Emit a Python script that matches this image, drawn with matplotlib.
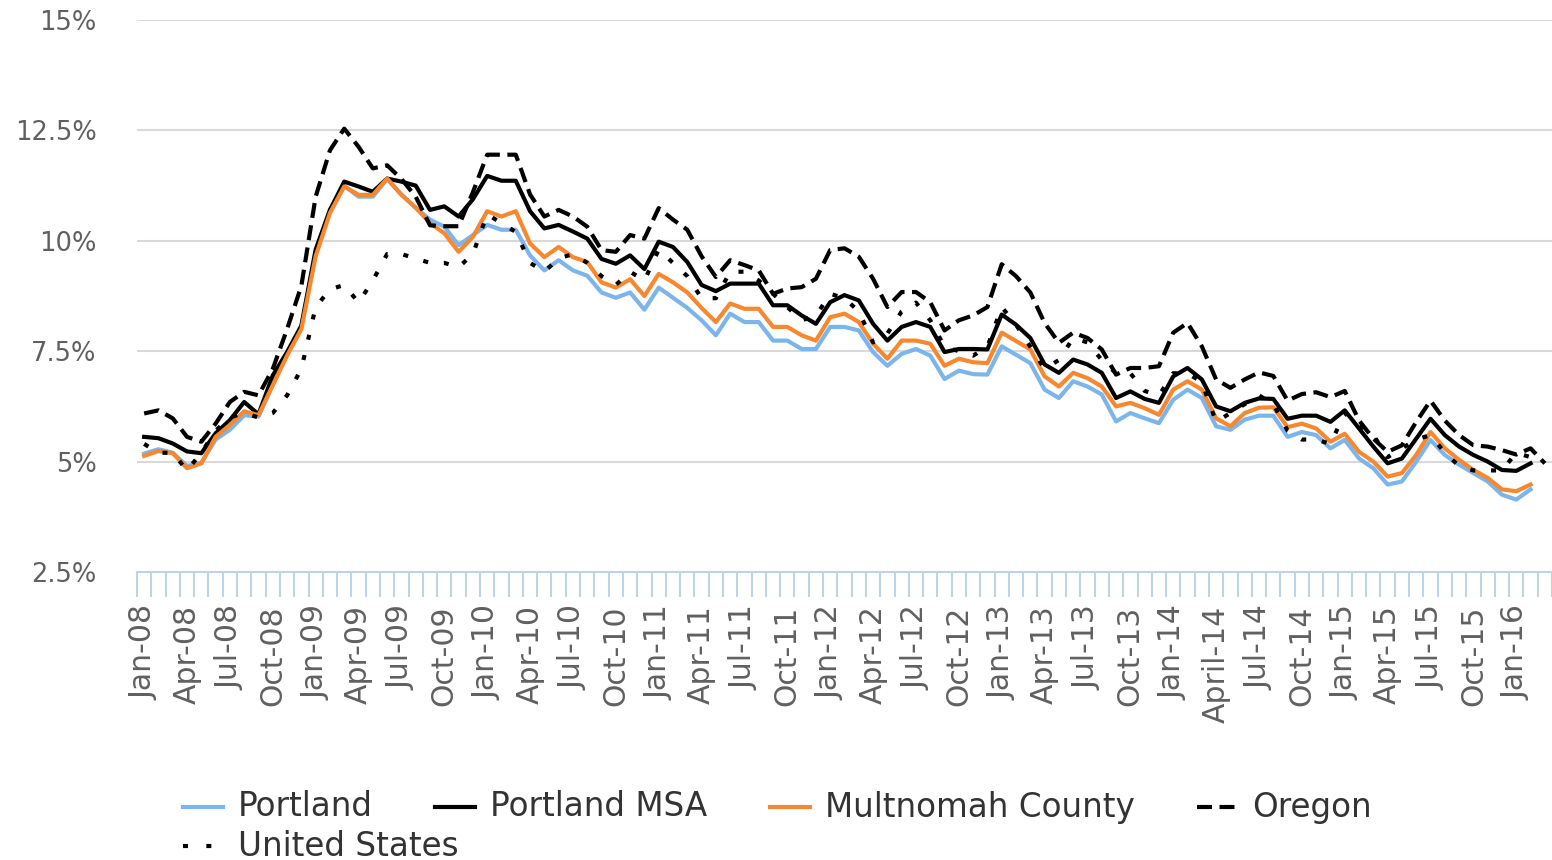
import numpy as np
import matplotlib
matplotlib.use("Agg")
import matplotlib.pyplot as plt
from matplotlib.lines import Line2D

# monthly categories Jan-08 .. Mar-16
months = list(range(99))
tick_labels = ['Jan-08', 'Apr-08', 'Jul-08', 'Oct-08', 'Jan-09', 'Apr-09', 'Jul-09', 'Oct-09',
               'Jan-10', 'Apr-10', 'Jul-10', 'Oct-10', 'Jan-11', 'Apr-11', 'Jul-11', 'Oct-11',
               'Jan-12', 'Apr-12', 'Jul-12', 'Oct-12', 'Jan-13', 'Apr-13', 'Jul-13', 'Oct-13',
               'Jan-14', 'April-14', 'Jul-14', 'Oct-14', 'Jan-15', 'Apr-15', 'Jul-15', 'Oct-15',
               'Jan-16']

portland = [5.18, 5.28, 5.2, 4.9, 4.97, 5.5, 5.72, 6.05, 6.02, 6.75, 7.45, 8.05,
            9.75, 10.7, 11.25, 11.0, 11.0, 11.4, 11.05, 10.75, 10.48, 10.32, 9.9, 10.13,
            10.36, 10.25, 10.25, 9.67, 9.33, 9.56, 9.33, 9.21, 8.83, 8.71, 8.83, 8.44,
            8.94, 8.71, 8.48, 8.2, 7.86, 8.35, 8.16, 8.16, 7.74, 7.74, 7.55, 7.55,
            8.05, 8.05, 7.97, 7.48, 7.17, 7.44, 7.55, 7.4, 6.87, 7.06, 6.98, 6.97,
            7.61, 7.42, 7.23, 6.63, 6.44, 6.82, 6.7, 6.52, 5.91, 6.1, 5.98, 5.87,
            6.4, 6.63, 6.44, 5.8, 5.72, 5.95, 6.04, 6.04, 5.56, 5.67, 5.6, 5.3,
            5.49, 5.07, 4.85, 4.48, 4.55, 5.0, 5.49, 5.15, 4.93, 4.74, 4.55, 4.25,
            4.14, 4.37]

portland_msa = [5.56, 5.53, 5.41, 5.23, 5.19, 5.64, 5.94, 6.35, 6.07, 6.95, 7.48, 8.08,
                9.8, 10.7, 11.34, 11.23, 11.11, 11.41, 11.34, 11.25, 10.7, 10.78, 10.55, 10.94,
                11.47, 11.36, 11.36, 10.67, 10.28, 10.36, 10.21, 10.05, 9.59, 9.48, 9.67, 9.36,
                9.98, 9.86, 9.52, 9.0, 8.86, 9.03, 9.03, 9.03, 8.54, 8.54, 8.31, 8.12,
                8.61, 8.77, 8.65, 8.12, 7.74, 8.05, 8.16, 8.05, 7.48, 7.55, 7.55, 7.54,
                8.33, 8.1, 7.8, 7.2, 7.01, 7.31, 7.2, 7.01, 6.44, 6.59, 6.42, 6.33,
                6.93, 7.12, 6.86, 6.25, 6.14, 6.33, 6.43, 6.42, 5.97, 6.04, 6.04, 5.9,
                6.16, 5.75, 5.34, 4.96, 5.07, 5.52, 5.97, 5.6, 5.34, 5.15, 5.0, 4.81,
                4.79, 4.96]

multnomah = [5.13, 5.24, 5.19, 4.85, 4.96, 5.56, 5.83, 6.14, 6.05, 6.73, 7.4, 8.0,
             9.65, 10.63, 11.23, 11.04, 11.04, 11.41, 11.04, 10.75, 10.4, 10.17, 9.75, 10.09,
             10.67, 10.55, 10.67, 9.94, 9.63, 9.86, 9.63, 9.52, 9.06, 8.94, 9.13, 8.75,
             9.25, 9.06, 8.83, 8.48, 8.16, 8.58, 8.46, 8.46, 8.05, 8.05, 7.86, 7.74,
             8.27, 8.35, 8.16, 7.67, 7.33, 7.74, 7.74, 7.67, 7.17, 7.33, 7.25, 7.23,
             7.92, 7.73, 7.54, 6.93, 6.7, 7.01, 6.89, 6.7, 6.25, 6.33, 6.21, 6.06,
             6.63, 6.82, 6.63, 5.98, 5.8, 6.1, 6.22, 6.23, 5.78, 5.86, 5.75, 5.45,
             5.63, 5.22, 5.0, 4.66, 4.74, 5.15, 5.67, 5.3, 5.04, 4.81, 4.63, 4.37,
             4.33, 4.48]

oregon = [6.09, 6.16, 5.98, 5.56, 5.45, 5.86, 6.35, 6.58, 6.5, 7.1, 8.0, 8.98,
          11.0, 12.05, 12.54, 12.13, 11.64, 11.71, 11.4, 11.0, 10.35, 10.33, 10.33, 11.1,
          11.95, 11.95, 11.95, 11.05, 10.55, 10.7, 10.55, 10.32, 9.79, 9.75, 10.13, 10.05,
          10.74, 10.48, 10.25, 9.65, 9.18, 9.56, 9.45, 9.33, 8.8, 8.92, 8.95, 9.14,
          9.79, 9.83, 9.64, 9.14, 8.5, 8.84, 8.84, 8.61, 7.97, 8.2, 8.31, 8.5,
          9.47, 9.2, 8.83, 8.14, 7.69, 7.92, 7.8, 7.54, 6.97, 7.12, 7.12, 7.16,
          7.92, 8.14, 7.61, 6.86, 6.67, 6.86, 7.02, 6.94, 6.38, 6.53, 6.57, 6.46,
          6.6, 5.93, 5.52, 5.22, 5.37, 5.9, 6.38, 5.93, 5.6, 5.37, 5.34, 5.26,
          5.16, 5.3, 4.96]

united_states = [5.4, 5.2, 5.2, 4.8, 5.2, 5.7, 6.0, 6.1, 6.0, 6.1, 6.5, 7.1,
                 8.5, 8.9, 9.0, 8.6, 9.1, 9.7, 9.7, 9.6, 9.5, 9.5, 9.4, 9.7,
                 10.6, 10.4, 10.2, 9.5, 9.3, 9.6, 9.7, 9.5, 9.2, 9.0, 9.3, 9.1,
                 9.8, 9.5, 9.2, 8.7, 8.7, 9.3, 9.3, 9.1, 8.8, 8.5, 8.2, 8.3,
                 8.8, 8.7, 8.4, 7.7, 7.9, 8.4, 8.6, 8.2, 7.6, 7.5, 7.4, 7.6,
                 8.5, 8.1, 7.6, 7.1, 7.3, 7.8, 7.7, 7.3, 7.0, 7.0, 6.6, 6.5,
                 7.0, 7.0, 6.8, 5.9, 6.1, 6.3, 6.5, 6.3, 5.7, 5.5, 5.5, 5.4,
                 6.1, 5.8, 5.6, 5.1, 5.3, 5.5, 5.6, 5.2, 4.9, 4.8, 4.8, 4.8,
                 5.2, 5.1]

y_ticks = [2.5, 5, 7.5, 10, 12.5, 15]
y_tick_labels = ['2.5%', '5%', '7.5%', '10%', '12.5%', '15%']

blue = '#7cb5ec'
orange = '#f7882f'
axis_blue = '#c0d2e6'
grid_grey = '#d9d9d9'
label_grey = '#606060'

W, H = 1552, 860
fig = plt.figure(figsize=(W / 100, H / 100), dpi=100)
ax = fig.add_axes([137 / W, 1 - 572 / H, (W - 137) / W, (572 - 20) / H])

lw = 3.0
ax.plot(range(len(portland)), portland, color=blue, lw=lw, zorder=3)
ax.plot(range(len(portland_msa)), portland_msa, color='black', lw=lw, zorder=4)
ax.plot(range(len(multnomah)), multnomah, color=orange, lw=lw, zorder=5)
ax.plot(range(len(oregon)), oregon, color='black', lw=lw, zorder=6,
        linestyle=(0, (3.6, 1.8)), dash_capstyle='butt')
ax.plot(range(len(united_states)), united_states, color='black', lw=lw, zorder=7,
        linestyle=(0, (1.2, 3.8)), dash_capstyle='butt')

ax.set_xlim(-0.5, len(months) - 0.5)
ax.set_ylim(2.5, 15)

ax.set_yticks(y_ticks)
ax.set_yticklabels(y_tick_labels)
ax.tick_params(axis='y', length=0, pad=29, labelsize=18.5, labelcolor=label_grey)

ax.set_xticks(np.arange(0, len(months), 3))
ax.set_xticklabels(tick_labels, rotation=90)
ax.set_xticks(np.arange(-0.5, len(months), 1), minor=True)
ax.tick_params(axis='x', which='major', length=0, pad=24, labelsize=21.5, labelcolor=label_grey)
ax.tick_params(axis='x', which='minor', length=18, width=1.5, color=axis_blue, direction='out')

for v in y_ticks[1:]:
    ax.axhline(v, color=grid_grey, lw=1.5, zorder=1)

for s in ['left', 'right', 'top']:
    ax.spines[s].set_visible(False)
ax.spines['bottom'].set_color(axis_blue)
ax.spines['bottom'].set_linewidth(1.5)

# legend drawn by hand, laid out like the original
def fx(x):
    return x / W

def fy(y):
    return 1 - y / H

legend_items = [
    ('Portland', dict(color=blue), 183, 807),
    ('Portland MSA', dict(color='black'), 435, 807),
    ('Multnomah County', dict(color=orange), 770, 807),
    ('Oregon', dict(color='black', linestyle=(0, (3.6, 1.8)), dash_capstyle='butt'), 1197, 807),
    ('United States', dict(color='black', linestyle=(0, (1.2, 4.4)), dash_capstyle='butt'), 183, 846),
]
for name, style, x0, y0 in legend_items:
    fig.add_artist(Line2D([fx(x0), fx(x0 + 40)], [fy(y0), fy(y0)], lw=lw,
                          transform=fig.transFigure, **style))
    fig.text(fx(x0 + 55), fy(y0), name, fontsize=23.5, color='#333333',
             va='center', ha='left')

fig.savefig('out.png', dpi=100)
